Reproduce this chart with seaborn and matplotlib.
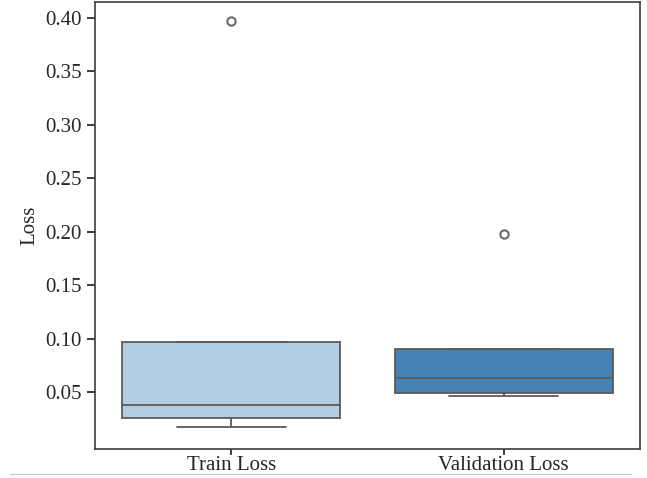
import pandas as pd
import seaborn as sns
import matplotlib.pyplot as plt
from matplotlib.lines import Line2D

# loss values per epoch
train_loss = [0.397, 0.097, 0.038, 0.026, 0.017]
val_loss = [0.198, 0.090, 0.063, 0.049, 0.046]
labels = ['Train Loss', 'Validation Loss']
colors = ['#b3cde2', '#4682b4']
yticks = [0.05, 0.10, 0.15, 0.20, 0.25, 0.30, 0.35, 0.40]

df = pd.DataFrame({
    'kind': [labels[0]] * len(train_loss) + [labels[1]] * len(val_loss),
    'loss': train_loss + val_loss,
})

sns.set_theme(style='ticks')
plt.rcParams['font.family'] = ['Liberation Serif', 'DejaVu Serif']
plt.rcParams['xtick.labelsize'] = 15
plt.rcParams['ytick.labelsize'] = 15
plt.rcParams['axes.labelsize'] = 15
plt.rcParams['xtick.major.pad'] = 1
plt.rcParams['xtick.major.size'] = 4

fig = plt.figure(figsize=(6.47, 4.78), dpi=100)
ax = fig.add_axes([0.147, 0.061, 0.842, 0.935])

sns.boxplot(data=df, x='kind', y='loss', hue='kind', palette=colors,
            saturation=1, legend=False, ax=ax, linewidth=1.3, linecolor='#5a5a5a',
            flierprops=dict(marker='o', markersize=6, markeredgewidth=1.5,
                            markeredgecolor='#6a6a6a'))

ax.set_xlabel('')
ax.set_ylabel('Loss')
ax.set_yticks(yticks)
ax.set_ylim(-0.003, 0.415)
for s in ax.spines.values():
    s.set_color('#444444')

# faint separator line under the chart
fig.add_artist(Line2D([0.015, 0.975], [0.008, 0.008], transform=fig.transFigure,
                      color='#cccccc', lw=1))

fig.savefig('out.png', dpi=100)
